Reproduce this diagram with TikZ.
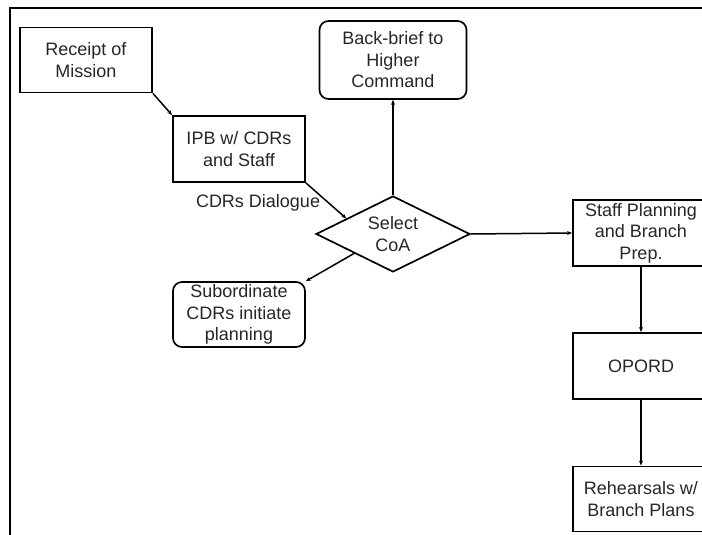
\documentclass[tikz,border=0pt]{standalone}
\usepackage{fontspec}
\setmainfont{Liberation Sans}
\usetikzlibrary{shapes.geometric,positioning,arrows.meta,calc}

\begin{document}
\begin{tikzpicture}[x=1pt,y=-1pt,node distance=133pt,
    font=\fontsize{18}{21.5}\selectfont,
    box/.style={draw,line width=1.9pt,text=black!85,align=center,inner sep=0pt,
      minimum width=132pt,minimum height=65pt},
    rbox/.style={box,rounded corners=9pt,line width=1.7pt},
    choice/.style={draw,diamond,aspect=2,line width=1.7pt,text=black!85,align=center,
      inner sep=0pt,minimum width=154pt,minimum height=76pt},
    flow/.style={-{Stealth[length=5pt,width=4pt]},line width=1.5pt}]
  \useasboundingbox (0,0) rectangle (702,535);
  \begin{scope}
    \clip (0,0) rectangle (702,535);
    % frame
    \draw[line width=1.4pt] (10,545) -- (10,8) -- (712,8);

    \node[box]                                     (rcpt)  at (86,60)    {Receipt of\\Mission};
    \node[box,minimum height=66pt]                 (ipb)   at (239,149)  {IPB w/ CDRs\\and Staff};
    \node[choice]                                  (coa)   at (393,234)  {Select\\CoA};
    \node[rbox,minimum width=147pt,minimum height=78pt] (brief) at (393,60) {Back-brief to\\Higher\\Command};
    \node[rbox]                                    (sub)   at (239,314.5) {Subordinate\\CDRs initiate\\planning};
    \node[box,minimum width=136pt,minimum height=66pt] (staff) at (641,233) {Staff Planning\\and Branch\\Prep.};
    \node[box,minimum width=136pt,minimum height=66pt] (opord) [below of=staff] {OPORD};
    \node[box,minimum width=136pt]                 (rhsl)  [below of=opord] {Rehearsals w/\\Branch Plans};

    \draw[flow] (rcpt.south east) -- (ipb.north west);
    \draw[flow] (ipb.south east) -- node[left=4pt,pos=0.55,text=black!85] {CDRs Dialogue}
                ($(coa.west)!0.4!(coa.north)$);
    \draw[flow] (coa.north) -- (brief.south);
    \draw[flow] (coa.east) -- (staff.west);
    \draw[flow] ($(coa.west)!0.5!(coa.south)$) -- (sub.north east);
    \draw[flow] (staff) -- (opord);
    \draw[flow] (opord) -- (rhsl);
  \end{scope}
\end{tikzpicture}
\end{document}
